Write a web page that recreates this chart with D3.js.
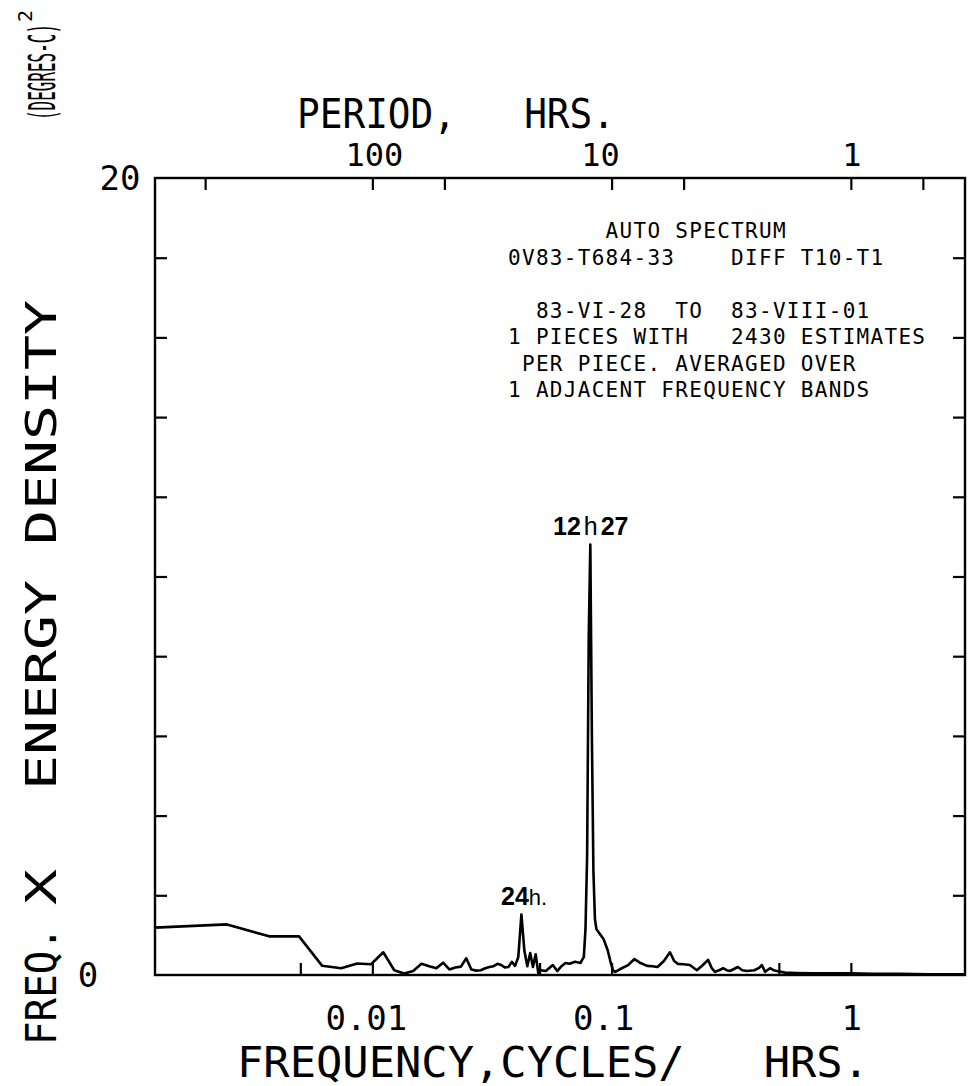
<!DOCTYPE html>
<html>
<head>
<meta charset="utf-8">
<script src="https://cdn.jsdelivr.net/npm/d3@7"></script>
<style>
  body { margin: 0; background: #fff; }
  svg { display: block; }
</style>
</head>
<body>
<script>

// spectral estimates: bin number k (frequency = k / 810 cycles per hour) and F x E(F)
const bins = [1, 2, 3, 4, 5, 6, 7, 8, 9, 10, 11, 12, 13, 14, 15, 16, 17, 18, 19, 20,
    21, 22, 23, 24, 25, 26, 27, 28, 29, 30, 31, 32, 33, 34, 35, 36, 37, 38, 39, 40,
    41, 43, 46, 48, 50, 52, 54, 57, 60, 61, 62, 63, 64, 65, 66, 67, 68, 69, 70, 72,
    75, 78, 80, 82, 84, 88, 95, 101, 107, 114, 120, 126, 134, 142, 148, 153, 162, 172, 184, 195,
    205, 212, 219, 228, 237, 245, 253, 263, 273, 285, 298, 320, 335, 344, 355, 362, 372, 385, 398, 430,
    480, 560, 650, 804, 1000, 1300, 1700, 2100, 2430]
const energy = [1.19, 1.27, 0.97, 0.97, 0.23, 0.17, 0.29, 0.27, 0.57, 0.12, 0.04, 0.10, 0.28, 0.22, 0.17, 0.31, 0.14, 0.19, 0.21, 0.42,
    0.14, 0.11, 0.12, 0.17, 0.20, 0.22, 0.28, 0.25, 0.19, 0.20, 0.33, 0.23, 0.45, 1.52, 0.60, 0.22, 0.55, 0.20, 0.52, 0.05,
    0.12, 0.10, 0.25, 0.10, 0.22, 0.30, 0.28, 0.33, 0.30, 0.38, 0.45, 1.15, 3.0, 8.5, 10.8, 6.0, 2.6, 1.4, 1.15, 1.05,
    0.90, 0.62, 0.35, 0.12, 0.08, 0.15, 0.25, 0.40, 0.30, 0.23, 0.22, 0.20, 0.35, 0.57, 0.35, 0.28, 0.27, 0.25, 0.12, 0.25,
    0.38, 0.18, 0.08, 0.12, 0.17, 0.12, 0.10, 0.15, 0.20, 0.12, 0.10, 0.12, 0.18, 0.25, 0.08, 0.12, 0.17, 0.12, 0.10, 0.06,
    0.05, 0.04, 0.04, 0.04, 0.03, 0.03, 0.02, 0.02, 0.02]

const binWidth = 1 / 810          // cycles / hr
const nyquist = 3                 // cycles / hr

const freqTicks = [0.005, 0.01, 0.05, 0.1, 0.5, 1]
const freqLabels = ['0.01', '0.1', '1']
const periodTicks = [500, 100, 50, 10, 5, 1, 0.5]
const periodLabels = ['100', '10', '1']
const yTicks = [2, 4, 6, 8, 10, 12, 14, 16, 18]
const yLabels = ['0', '20']

const infoLines = [
    '       AUTO SPECTRUM',
    '0V83-T684-33    DIFF T10-T1',
    '',
    '  83-VI-28  TO  83-VIII-01',
    '1 PIECES WITH   2430 ESTIMATES',
    ' PER PIECE. AVERAGED OVER',
    '1 ADJACENT FREQUENCY BANDS'
]

let svgwidth = 968
let svgheight = 1086
let mLeft = 155, mRight = 965, mTop = 178, mBottom = 975
let tick = 12
let plotFont = "'DejaVu Sans Mono', 'Liberation Mono', monospace"

let svg = d3.select(document.body)
    .append('svg')
        .attr('width', svgwidth)
        .attr('height', svgheight);

svg.append('rect')
    .attr('width', svgwidth)
    .attr('height', svgheight)
    .attr('fill', '#fff');

let x = d3.scaleLog().domain([binWidth, nyquist]).range([mLeft, mRight])
let y = d3.scaleLinear().domain([0, 20]).range([mBottom, mTop])

// frame
svg.append('rect')
    .attr('x', mLeft)
    .attr('y', mTop)
    .attr('width', mRight - mLeft)
    .attr('height', mBottom - mTop)
    .attr('fill', 'none')
    .attr('stroke', '#000')
    .attr('stroke-width', 2.4);

// ticks pointing inward, drawn with d3 axes
let axisStyle = g => {
    g.select('.domain').remove()
    g.selectAll('line').attr('stroke', '#000').attr('stroke-width', 2.2)
    g.selectAll('text').remove()
}

svg.append('g')
    .attr('transform', `translate(0,${mBottom})`)
    .call(d3.axisBottom(x).tickValues(freqTicks).tickSize(-tick).tickSizeOuter(0))
    .call(axisStyle);

svg.append('g')
    .attr('transform', `translate(0,${mTop})`)
    .call(d3.axisTop(x).tickValues(periodTicks.map(p => 1 / p)).tickSize(-tick).tickSizeOuter(0))
    .call(axisStyle);

svg.append('g')
    .attr('transform', `translate(${mLeft},0)`)
    .call(d3.axisLeft(y).tickValues(yTicks).tickSize(-tick).tickSizeOuter(0))
    .call(axisStyle);

svg.append('g')
    .attr('transform', `translate(${mRight},0)`)
    .call(d3.axisRight(y).tickValues(yTicks).tickSize(-tick).tickSizeOuter(0))
    .call(axisStyle);

// tick labels (plotter puts them a little off the tick)
let freqShift = { '0.01': -6, '0.1': -8, '1': 1 }
let periodShift = { '100': 2, '10': -11, '1': 1 }

svg.append('g')
    .selectAll('text')
    .data(freqLabels)
    .join('text')
        .attr('x', d => x(+d) + freqShift[d])
        .attr('y', 1030)
        .attr('text-anchor', 'middle')
        .attr('font-family', plotFont)
        .attr('font-size', 34)
        .text(d => d);

svg.append('g')
    .selectAll('text')
    .data(periodLabels)
    .join('text')
        .attr('x', d => x(1 / +d) + periodShift[d])
        .attr('y', 166)
        .attr('text-anchor', 'middle')
        .attr('font-family', plotFont)
        .attr('font-size', 32)
        .text(d => d);

svg.append('g')
    .selectAll('text')
    .data(yLabels)
    .join('text')
        .attr('x', d => d === '0' ? 88 : 120)
        .attr('y', d => y(+d) + 12)
        .attr('text-anchor', 'middle')
        .attr('font-family', plotFont)
        .attr('font-size', 34)
        .text(d => d);

// axis titles
svg.append('text')
    .attr('x', 297)
    .attr('y', 128)
    .attr('font-family', plotFont)
    .attr('font-size', 40)
    .attr('textLength', 318)
    .attr('lengthAdjust', 'spacingAndGlyphs')
    .style('white-space', 'pre')
    .text('PERIOD,   HRS.');

svg.append('text')
    .attr('x', 237)
    .attr('y', 1077)
    .attr('font-family', plotFont)
    .attr('font-size', 42)
    .attr('textLength', 632)
    .attr('lengthAdjust', 'spacingAndGlyphs')
    .style('white-space', 'pre')
    .text('FREQUENCY,CYCLES/   HRS.');

let yTitle = [
    { t: 'FREQ.', pos: 1045, len: 118 },
    { t: 'X', pos: 905, len: 36 },
    { t: 'ENERGY DENSITY', pos: 790, len: 490 }
]
svg.append('g')
    .selectAll('text')
    .data(yTitle)
    .join('text')
        .attr('transform', d => `translate(56,${d.pos}) rotate(-90)`)
        .attr('font-family', plotFont)
        .attr('font-size', 42)
        .attr('textLength', d => d.len)
        .attr('lengthAdjust', 'spacingAndGlyphs')
        .text(d => d.t);

// unit, squeezed along the axis with a scale instead of textLength
svg.append('text')
    .attr('transform', 'translate(55,120) rotate(-90) scale(0.42,1)')
    .attr('font-family', plotFont)
    .attr('font-size', 38)
    .text('(DEGRES-C)');

svg.append('text')
    .attr('transform', 'translate(32,22) rotate(-90)')
    .attr('font-family', plotFont)
    .attr('font-size', 20)
    .text('2');

// info block
svg.append('g')
    .selectAll('text')
    .data(infoLines)
    .join('text')
        .attr('x', 508)
        .attr('y', (d, i) => 238 + i * 26.5)
        .attr('font-family', plotFont)
        .attr('font-size', 21)
        .attr('letter-spacing', 1.3)
        .style('white-space', 'pre')
        .text(d => d);

// spectrum
let series = bins.map((k, i) => ({ f: k * binWidth, e: energy[i] }))

svg.append('path')
    .datum(series)
    .attr('fill', 'none')
    .attr('stroke', '#000')
    .attr('stroke-width', 2.6)
    .attr('stroke-linejoin', 'round')
    .attr('d', d3.line().x(d => x(d.f)).y(d => y(d.e)));

// hand lettered annotations
let handFont = "'Liberation Sans', Arial, sans-serif"

let lab24 = svg.append('text')
    .attr('x', 501)
    .attr('y', 905)
    .attr('font-family', handFont)
    .attr('font-size', 25)
lab24.append('tspan').attr('font-weight', 'bold').text('24')
lab24.append('tspan').attr('font-size', 22).text('h.')

let lab12 = svg.append('text')
    .attr('x', 553)
    .attr('y', 535)
    .attr('font-family', handFont)
    .attr('font-size', 25)
lab12.append('tspan').attr('font-weight', 'bold').text('12')
lab12.append('tspan').attr('dx', 3).text('h')
lab12.append('tspan').attr('dx', 3).attr('font-weight', 'bold').text('27')

</script>
</body>
</html>
